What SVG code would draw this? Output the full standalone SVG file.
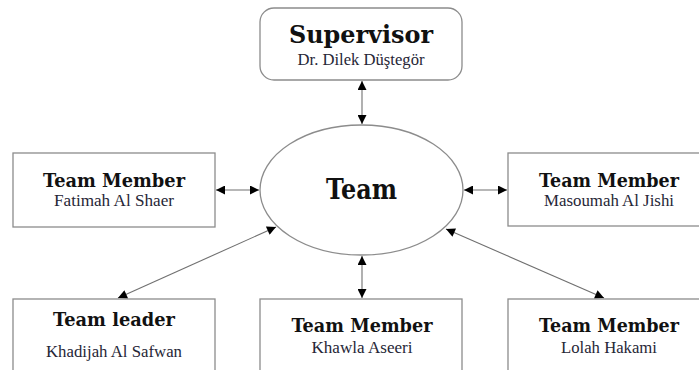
<svg xmlns="http://www.w3.org/2000/svg" width="699" height="370" viewBox="0 0 699 370">
  <style>
    .box { fill: #ffffff; stroke: #8c8c8c; stroke-width: 1.3; }
    .head { font-family: "DejaVu Serif", "Liberation Serif", serif; font-weight: bold; fill: #111111; text-anchor: middle; }
    .sub { font-family: "Liberation Serif", "DejaVu Serif", serif; fill: #262636; text-anchor: middle; font-size: 16.5px; }
    .link { fill: none; stroke: #707070; stroke-width: 1.1; marker-start: url(#tip); marker-end: url(#tip); }
  </style>
  <defs>
    <marker id="tip" viewBox="0 0 10 10" refX="10" refY="5" markerWidth="10" markerHeight="9" markerUnits="userSpaceOnUse" orient="auto-start-reverse">
      <path d="M0,0 L10,5 L0,10 Z" fill="#000000"/>
    </marker>
  </defs>
  <rect width="699" height="370" fill="#ffffff"/>

  <g id="connectors">
    <line class="link" x1="362" y1="81" x2="362" y2="124"/>
    <line class="link" x1="216" y1="190" x2="259" y2="190"/>
    <line class="link" x1="464" y1="190" x2="507" y2="190"/>
    <line class="link" x1="362" y1="256" x2="362" y2="298"/>
    <line class="link" x1="276" y1="227" x2="118" y2="298"/>
    <line class="link" x1="446" y1="229" x2="604" y2="298"/>
  </g>

  <g id="supervisor">
    <rect class="box" x="260" y="8" width="202" height="72" rx="14" ry="14"/>
    <text class="head" x="361" y="43" font-size="24" textLength="144" lengthAdjust="spacingAndGlyphs">Supervisor</text>
    <text class="sub" x="361" y="65" textLength="127" lengthAdjust="spacingAndGlyphs">Dr. Dilek Düştegör</text>
  </g>

  <g id="team">
    <ellipse class="box" cx="361.5" cy="190" rx="101.5" ry="65"/>
    <text class="head" x="361.5" y="199" font-size="27" textLength="71" lengthAdjust="spacingAndGlyphs">Team</text>
  </g>

  <g id="member-fatimah">
    <rect class="box" x="13" y="153" width="202" height="74"/>
    <text class="head" x="114" y="187" font-size="19" textLength="142" lengthAdjust="spacingAndGlyphs">Team Member</text>
    <text class="sub" x="114" y="206" textLength="120" lengthAdjust="spacingAndGlyphs">Fatimah Al Shaer</text>
  </g>

  <g id="member-masoumah">
    <rect class="box" x="508" y="153" width="202" height="73"/>
    <text class="head" x="609" y="187" font-size="19" textLength="140" lengthAdjust="spacingAndGlyphs">Team Member</text>
    <text class="sub" x="609" y="206" textLength="130" lengthAdjust="spacingAndGlyphs">Masoumah Al Jishi</text>
  </g>

  <g id="leader-khadijah">
    <rect class="box" x="13" y="299" width="202" height="80"/>
    <text class="head" x="114" y="326" font-size="19" textLength="122" lengthAdjust="spacingAndGlyphs">Team leader</text>
    <text class="sub" x="114" y="357" textLength="136" lengthAdjust="spacingAndGlyphs">Khadijah Al Safwan</text>
  </g>

  <g id="member-khawla">
    <rect class="box" x="260" y="299" width="202" height="80"/>
    <text class="head" x="362" y="332" font-size="19" textLength="141" lengthAdjust="spacingAndGlyphs">Team Member</text>
    <text class="sub" x="362" y="353" textLength="101" lengthAdjust="spacingAndGlyphs">Khawla Aseeri</text>
  </g>

  <g id="member-lolah">
    <rect class="box" x="508" y="299" width="202" height="80"/>
    <text class="head" x="609" y="332" font-size="19" textLength="140" lengthAdjust="spacingAndGlyphs">Team Member</text>
    <text class="sub" x="609" y="353" textLength="96" lengthAdjust="spacingAndGlyphs">Lolah Hakami</text>
  </g>
</svg>
